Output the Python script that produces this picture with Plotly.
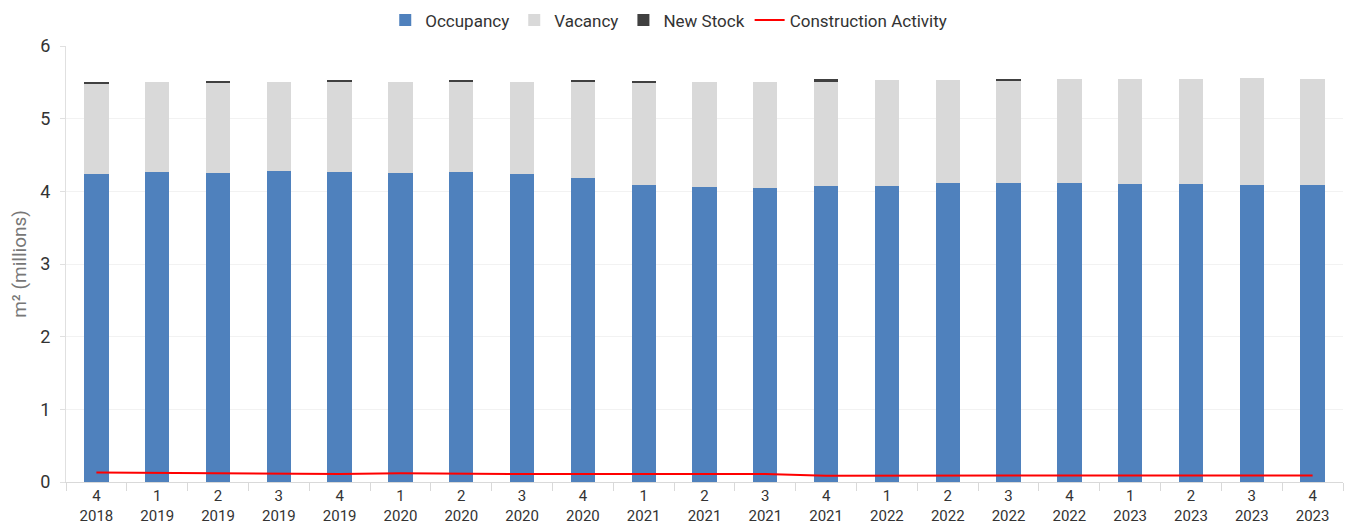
import plotly.graph_objects as go

# quarter / year tick labels
quarters = ["4", "1", "2", "3", "4", "1", "2", "3", "4", "1", "2",
            "3", "4", "1", "2", "3", "4", "1", "2", "3", "4"]
years = ["2018", "2019", "2019", "2019", "2019", "2020", "2020", "2020", "2020", "2021", "2021",
         "2021", "2021", "2022", "2022", "2022", "2022", "2023", "2023", "2023", "2023"]
categories = [f"{q}<br>{y}" for q, y in zip(quarters, years)]

# m2 (millions)
occupancy = [4.24, 4.27, 4.25, 4.28, 4.27, 4.25, 4.26, 4.24, 4.18, 4.09, 4.06,
             4.04, 4.07, 4.07, 4.11, 4.11, 4.12, 4.10, 4.10, 4.09, 4.09]
vacancy = [1.24, 1.23, 1.25, 1.23, 1.23, 1.25, 1.25, 1.27, 1.33, 1.41, 1.45,
           1.47, 1.44, 1.46, 1.42, 1.42, 1.42, 1.44, 1.45, 1.47, 1.45]
new_stock = [0.03, 0.0, 0.015, 0.0, 0.03, 0.0, 0.015, 0.0, 0.015, 0.025, 0.0,
             0.0, 0.04, 0.0, 0.0, 0.02, 0.0, 0.0, 0.0, 0.0, 0.0]
construction = [0.13, 0.125, 0.12, 0.12, 0.11, 0.12, 0.11, 0.11, 0.11, 0.11, 0.11,
                0.11, 0.085, 0.09, 0.09, 0.09, 0.09, 0.09, 0.09, 0.09, 0.09]

fig = go.Figure()
fig.add_trace(go.Bar(x=categories, y=occupancy, name="Occupancy",
                     marker=dict(color="#4f81bd", line=dict(width=0))))
fig.add_trace(go.Bar(x=categories, y=vacancy, name="Vacancy",
                     marker=dict(color="#d9d9d9", line=dict(width=0))))
fig.add_trace(go.Bar(x=categories, y=new_stock, name="New Stock",
                     marker=dict(color="#404040", line=dict(width=0))))
fig.add_trace(go.Scatter(x=categories, y=construction, name="Construction Activity",
                         mode="lines", line=dict(color="#ff0000", width=2)))

# the page body has an 8px margin, so the figure is a bit smaller than the window
fig.update_layout(
    width=1345, height=520,
    barmode="stack", bargap=0.6,
    plot_bgcolor="white", paper_bgcolor="white",
    font=dict(family="Roboto", size=14, color="#333333"),
    margin=dict(l=58, r=10, t=38, b=46, autoexpand=False),
    legend=dict(orientation="h", x=0.472, xanchor="center", y=1.1, yanchor="top",
                traceorder="normal", font=dict(size=17, color="#333333"),
                itemwidth=30, bgcolor="rgba(0,0,0,0)"),
    showlegend=True,
)
fig.update_xaxes(
    type="category", showgrid=False, showline=True, linecolor="#d9d9d9",
    ticks="outside", tickson="boundaries", ticklen=8, tickcolor="#d9d9d9",
    tickfont=dict(size=15, color="#333333"), automargin=False,
)
fig.update_yaxes(
    range=[0, 6], dtick=1, showgrid=True, gridcolor="#f2f2f2",
    showline=True, linecolor="#e0e0e0", ticks="outside", ticklen=5, tickcolor="#e0e0e0",
    tickfont=dict(size=18, color="#333333"), zeroline=False, automargin=False,
    ticklabelstandoff=6,
    title=dict(text="m² (millions)", font=dict(size=19, color="#777777"), standoff=14),
)

fig.write_html("out.html")
